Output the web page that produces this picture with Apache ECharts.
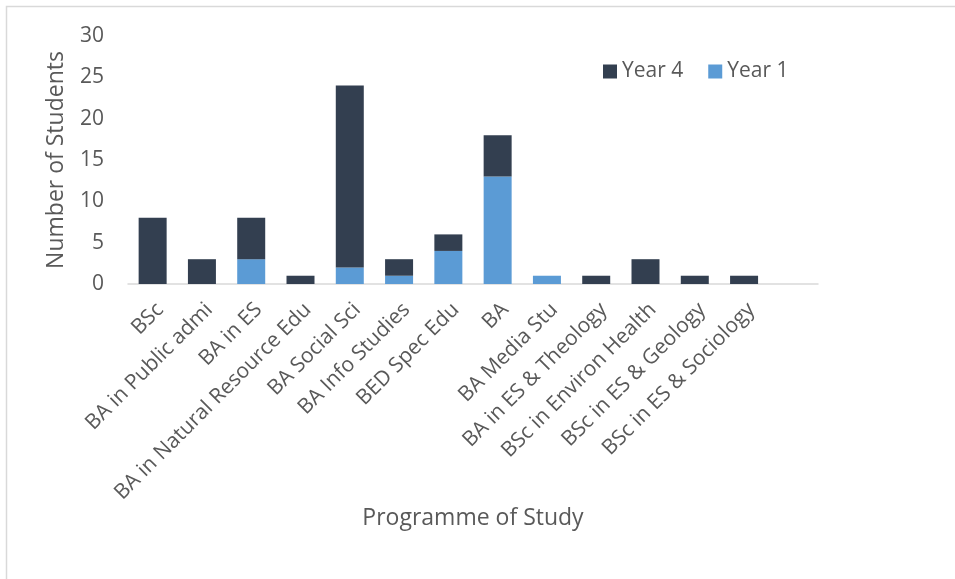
<!DOCTYPE html>
<html>
<head>
<meta charset="utf-8">
<script src="https://cdn.jsdelivr.net/npm/echarts@6/dist/echarts.min.js"></script>
<style>html,body{margin:0;padding:0;background:#fff;}#c{width:955px;height:579px;}</style>
</head>
<body>
<div id="c"></div>
<script>
const categories = ['BSc','BA in Public admi','BA in ES','BA in Natural Resource Edu','BA Social Sci','BA Info Studies','BED Spec Edu','BA','BA Media Stu','BA in ES & Theology','BSc in Environ Health','BSc in ES & Geology','BSc in ES & Sociology',''];
const year1 = [0,0,3,0,2,1,4,13,1,0,0,0,0,null];
const year4 = [8,3,5,1,22,2,2,5,0,1,3,1,1,null];
const yTicks = {min:0, max:30, interval:5};

const FONT = 'Open Sans';
const TXT = '#595959';
const chart = echarts.init(document.getElementById('c'), null, {renderer:'canvas'});
chart.setOption({
  animation:false,
  textStyle:{fontFamily:FONT},
  graphic:[{type:'rect', shape:{x:6.5,y:6.5,width:1000,height:1000}, style:{fill:'none', stroke:'#D9D9D9', lineWidth:1.5}, z:-1}],
  legend:{
    data:['Year 4','Year 1'],
    left:598, top:56,
    itemWidth:14, itemHeight:14, itemGap:25,
    icon:'rect',
    textStyle:{fontFamily:FONT, fontSize:21, color:TXT}
  },
  grid:{left:128, right:137, top:36, bottom:295, containLabel:false},
  xAxis:{
    type:'category', data:categories,
    axisLine:{lineStyle:{color:'#D9D9D9', width:1.5}},
    axisTick:{show:false},
    axisLabel:{rotate:45, interval:0, fontSize:21, color:TXT, fontFamily:FONT, margin:15, verticalAlign:'top'},
    name:'Programme of Study', nameLocation:'middle', nameGap:220,
    nameTextStyle:{fontSize:23, color:TXT, fontFamily:FONT}
  },
  yAxis:{
    type:'value', min:yTicks.min, max:yTicks.max, interval:yTicks.interval,
    splitLine:{show:false},
    axisLine:{show:false}, axisTick:{show:false},
    axisLabel:{fontSize:21, color:TXT, fontFamily:FONT, margin:24},
    name:'Number of Students', nameLocation:'middle', nameGap:60,
    nameTextStyle:{fontSize:23, color:TXT, fontFamily:FONT}
  },
  series:[
    {name:'Year 1', type:'bar', stack:'s', data:year1, barWidth:28, itemStyle:{color:'#5B9BD5'}},
    {name:'Year 4', type:'bar', stack:'s', data:year4, barWidth:28, itemStyle:{color:'#333F50'}}
  ]
});
</script>
</body>
</html>
